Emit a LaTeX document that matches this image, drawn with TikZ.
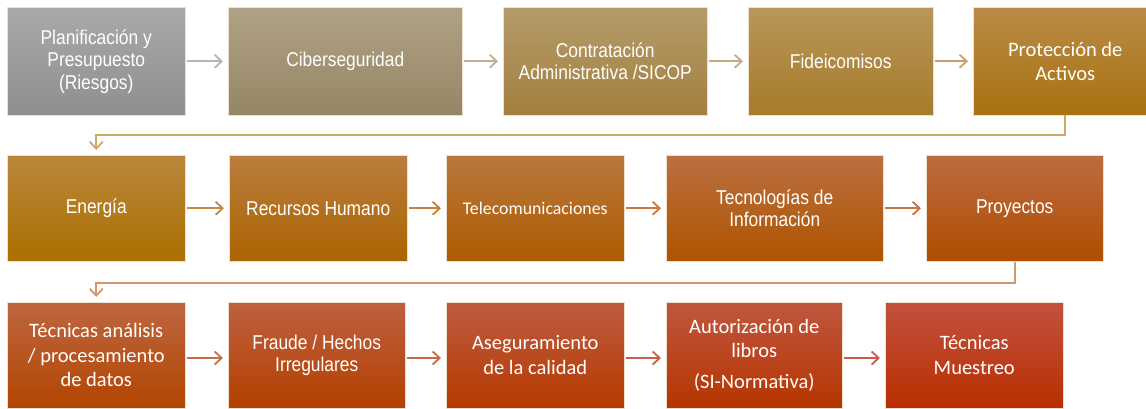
\documentclass[tikz,border=0pt]{standalone}
\usepackage{fontspec}
\setmainfont{Liberation Sans}
\newfontfamily\narrowfont[FakeStretch=0.87]{Liberation Sans}
\newfontfamily\calfont{Carlito}
\usetikzlibrary{arrows.meta}
\tikzset{
  box/.style={anchor=north west, inner sep=0pt, align=center, text=white,
    draw=white!75!brown, line width=0.5pt, font=\narrowfont\fontsize{20}{22.5}\selectfont},
  calb/.style={font=\calfont\fontsize{20.5}{24.5}\selectfont},
  arr/.style={line width=1.8pt, -{Straight Barb[length=7pt,width=13pt,line width=1.8pt]},
    shorten <=1pt, shorten >=5pt},
  conn/.style={line width=1.8pt, -{Straight Barb[length=7pt,width=13pt,line width=1.8pt]},
    shorten >=5pt},
}
\definecolor{a1}{HTML}{B5B5B5}
\definecolor{a2}{HTML}{BDB094}
\definecolor{a3}{HTML}{C4AC80}
\definecolor{a4}{HTML}{C6A26A}
\definecolor{c1}{HTML}{CFA965}
\definecolor{b1}{HTML}{C08A40}
\definecolor{b2}{HTML}{C4823F}
\definecolor{b3}{HTML}{C47A40}
\definecolor{b4}{HTML}{C57545}
\definecolor{c2}{HTML}{D49570}
\definecolor{d1}{HTML}{C86E4B}
\definecolor{d2}{HTML}{C86848}
\definecolor{d3}{HTML}{C8604A}
\definecolor{d4}{HTML}{C85C48}
\begin{document}
\begin{tikzpicture}[x=1pt,y=-1pt]
\clip (0,0) rectangle (1146,409);
\fill[white] (0,0) rectangle (1146,409);
% row 1
\node[box, minimum width=178pt, minimum height=108pt, top color={rgb,255:red,169;green,169;blue,169}, bottom color={rgb,255:red,143;green,143;blue,143}] (n1) at (7,7) {Planificación y\\Presupuesto\\(Riesgos)};
\node[box, minimum width=234pt, minimum height=108pt, top color={rgb,255:red,175;green,161;blue,132}, bottom color={rgb,255:red,149;green,134;blue,101}] (n2) at (228,7) {Ciberseguridad};
\node[box, minimum width=204pt, minimum height=108pt, top color={rgb,255:red,181;green,156;blue,107}, bottom color={rgb,255:red,163;green,127;blue,62}] (n3) at (503,7) {Contratación\\Administrativa /SICOP};
\node[box, minimum width=185pt, minimum height=108pt, top color={rgb,255:red,184;green,151;blue,90}, bottom color={rgb,255:red,166;green,123;blue,43}] (n4) at (748,7) {Fideicomisos};
\node[box, calb, minimum width=184pt, minimum height=108pt, top color={rgb,255:red,185;green,139;blue,72}, bottom color={rgb,255:red,169;green,114;blue,15}] (n5) at (973,7) {Protección de\\Activos};
% row 2
\node[box, minimum width=178pt, minimum height=106pt, top color={rgb,255:red,185;green,135;blue,60}, bottom color={rgb,255:red,171;green,111;blue,0}] (m1) at (7,155) {Energía};
\node[box, minimum width=178pt, minimum height=106pt, top color={rgb,255:red,185;green,125;blue,62}, bottom color={rgb,255:red,172;green,100;blue,0}] (m2) at (229,155) {Recursos Humano};
\node[box, calb, font=\calfont\fontsize{17.8}{22}\selectfont, minimum width=178pt, minimum height=106pt, top color={rgb,255:red,186;green,119;blue,62}, bottom color={rgb,255:red,173;green,92;blue,0}] (m3) at (446,155) {Telecomunicaciones};
\node[box, minimum width=217pt, minimum height=106pt, top color={rgb,255:red,187;green,112;blue,64}, bottom color={rgb,255:red,174;green,84;blue,0}] (m4) at (666,155) {Tecnologías de\\Información};
\node[box, minimum width=177pt, minimum height=106pt, top color={rgb,255:red,188;green,107;blue,64}, bottom color={rgb,255:red,176;green,77;blue,0}] (m5) at (926,155) {Proyectos};
% row 3
\node[box, calb, minimum width=178pt, minimum height=106pt, top color={rgb,255:red,190;green,102;blue,64}, bottom color={rgb,255:red,178;green,69;blue,0}] (r1) at (7,302) {Técnicas análisis\\/ procesamiento\\de datos};
\node[box, minimum width=177pt, minimum height=106pt, top color={rgb,255:red,190;green,96;blue,64}, bottom color={rgb,255:red,179;green,64;blue,0}] (r2) at (228,302) {Fraude / Hechos\\Irregulares};
\node[box, calb, minimum width=178pt, minimum height=106pt, top color={rgb,255:red,191;green,91;blue,64}, bottom color={rgb,255:red,181;green,58;blue,0}] (r3) at (446,302) {Aseguramiento\\de la calidad};
\node[box, calb, minimum width=176pt, minimum height=106pt, top color={rgb,255:red,192;green,86;blue,63}, bottom color={rgb,255:red,182;green,53;blue,0}] (r4) at (666,302) {Autorización de\\libros\\[6pt](SI-Normativa)};
\node[box, calb, minimum width=178pt, minimum height=106pt, top color={rgb,255:red,193;green,81;blue,63}, bottom color={rgb,255:red,184;green,47;blue,0}] (r5) at (885,302) {Técnicas\\Muestreo};
% arrows row 1
\draw[arr, a1] (n1) -- (n2);
\draw[arr, a2] (n2) -- (n3);
\draw[arr, a3] (n3) -- (n4);
\draw[arr, a4] (n4) -- (n5);
% connector 1
\coordinate (k1) at (0,135);
\draw[conn, c1] (n5.south) -- (n5.south |- k1) -| (m1.north);
% arrows row 2
\draw[arr, b1] (m1) -- (m2);
\draw[arr, b2] (m2) -- (m3);
\draw[arr, b3] (m3) -- (m4);
\draw[arr, b4] (m4) -- (m5);
% connector 2
\coordinate (k2) at (0,283);
\draw[conn, c2] (m5.south) -- (m5.south |- k2) -| (r1.north);
% arrows row 3
\draw[arr, d1] (r1.east |- 0,358) -- (r2.west |- 0,358);
\draw[arr, d2] (r2.east |- 0,358) -- (r3.west |- 0,358);
\draw[arr, d3] (r3.east |- 0,358) -- (r4.west |- 0,358);
\draw[arr, d4] (r4.east |- 0,358) -- (r5.west |- 0,358);
\end{tikzpicture}
\end{document}
